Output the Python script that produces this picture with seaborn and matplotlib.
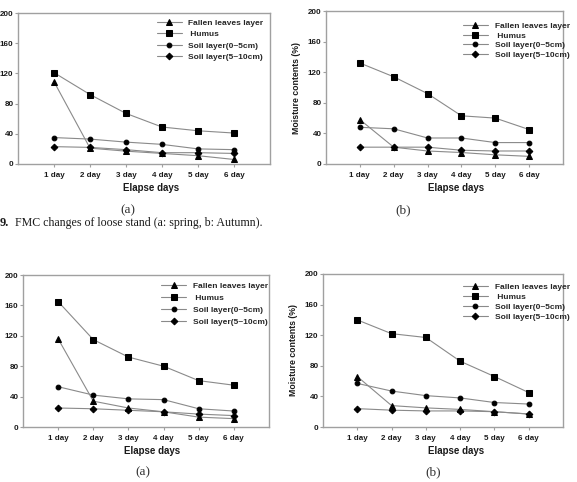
import matplotlib
import matplotlib.pyplot as plt
import seaborn as sns

matplotlib.use('Agg')

days = ["1 day", "2 day", "3 day", "4 day", "5 day", "6 day"]
layers = ["Fallen leaves layer", " Humus", "Soil layer(0~5cm)", "Soil layer(5~10cm)"]
markers = ["^", "s", "o", "D"]
marker_sizes = [3.8, 3.8, 3.4, 3.4]

# top figure (a: spring, b: autumn)
top_a_fallen = [109, 21, 17, 14, 11, 6]
top_a_humus = [121, 92, 67, 49, 44, 41]
top_a_soil05 = [35, 33, 29, 26, 20, 19]
top_a_soil510 = [23, 22, 19, 15, 15, 14]

top_b_fallen = [58, 22, 17, 15, 12, 10]
top_b_humus = [132, 114, 92, 63, 60, 45]
top_b_soil05 = [48, 46, 34, 34, 28, 28]
top_b_soil510 = [22, 22, 22, 18, 17, 17]

# bottom figure
bot_a_fallen = [116, 34, 25, 20, 13, 11]
bot_a_humus = [165, 115, 92, 80, 61, 55]
bot_a_soil05 = [53, 42, 37, 36, 24, 21]
bot_a_soil510 = [25, 24, 22, 20, 17, 15]

bot_b_fallen = [66, 28, 25, 23, 20, 17]
bot_b_humus = [140, 122, 117, 86, 66, 45]
bot_b_soil05 = [57, 47, 41, 38, 32, 30]
bot_b_soil510 = [24, 22, 21, 21, 20, 17]

y_ticks = [0, 40, 80, 120, 160, 200]

W, H = 577, 482
LINE_GRAY = "#8a8a8a"
SPINE_GRAY = "#a0a0a0"
TXT = "#1a1a1a"

sns.set_theme(style="white")
plt.rcParams['font.family'] = ['Liberation Sans', 'DejaVu Sans']
plt.rcParams['font.weight'] = 'bold'


def px_rect(x0, y0, x1, y1):
    return [x0 / W, 1 - y1 / H, (x1 - x0) / W, (y1 - y0) / H]


def draw_panel(fig, rect, series, ylabel, leg_anchor, leg_spacing, xlabel_x):
    ax = fig.add_axes(px_rect(*rect))
    for name, vals, m, ms in zip(layers, series, markers, marker_sizes):
        sns.lineplot(x=days, y=vals, ax=ax, color=LINE_GRAY, linewidth=0.8,
                     marker=m, markersize=ms, markerfacecolor="black",
                     markeredgecolor="black", label=name)
    ax.set_xlim(-1, 6)
    ax.set_ylim(0, 200)
    ax.set_yticks(y_ticks)
    for s in ax.spines.values():
        s.set_color(SPINE_GRAY)
        s.set_linewidth(1.0)
    ax.tick_params(axis="both", direction="out", length=2.5, width=0.8,
                   color=SPINE_GRAY, labelsize=5.8, pad=0.8, labelcolor=TXT,
                   bottom=True, left=True)
    ax.tick_params(axis="x", pad=3)
    for lab in ax.get_xticklabels() + ax.get_yticklabels():
        lab.set_fontweight("bold")
    ax.set_xlabel("Elapse days", fontsize=7, fontweight="bold", color=TXT)
    ax.xaxis.set_label_coords(xlabel_x, -0.125)
    if ylabel:
        ax.set_ylabel(ylabel, fontsize=6.3, fontweight="bold", color=TXT)
        ax.yaxis.set_label_coords(-0.105, 0.5)
    else:
        ax.set_ylabel("")
    ax.legend(loc="upper left", bbox_to_anchor=leg_anchor, frameon=False,
              handlelength=3.0, handletextpad=0.8,
              labelspacing=leg_spacing, borderpad=0, borderaxespad=0,
              prop={"weight": "bold", "size": 6})
    return ax


fig = plt.figure(figsize=(W / 100, H / 100), dpi=100)

draw_panel(fig, (18, 13, 270, 164),
           [top_a_fallen, top_a_humus, top_a_soil05, top_a_soil510],
           None, (0.55, 0.962), 0.45, 0.53)
draw_panel(fig, (326, 11, 563, 164),
           [top_b_fallen, top_b_humus, top_b_soil05, top_b_soil510],
           "Moisture contents (%)", (0.578, 0.927), 0.2, 0.55)
draw_panel(fig, (23, 275, 269, 427),
           [bot_a_fallen, bot_a_humus, bot_a_soil05, bot_a_soil510],
           None, (0.561, 0.952), 0.48, 0.525)
draw_panel(fig, (323, 274, 563, 427),
           [bot_b_fallen, bot_b_humus, bot_b_soil05, bot_b_soil510],
           "Moisture contents (%)", (0.583, 0.938), 0.24, 0.555)

serif = ['Liberation Serif', 'DejaVu Serif']
fig.text(128 / W, 1 - 210 / H, "(a)", family=serif, fontsize=9.5, fontweight="normal",
         ha="center", va="center", color="#333333")
fig.text(403 / W, 1 - 210 / H, "(b)", family=serif, fontsize=9.5, fontweight="normal",
         ha="center", va="center", color="#333333")
fig.text(143 / W, 1 - 472 / H, "(a)", family=serif, fontsize=9.5, fontweight="normal",
         ha="center", va="center", color="#333333")
fig.text(433 / W, 1 - 472 / H, "(b)", family=serif, fontsize=9.5, fontweight="normal",
         ha="center", va="center", color="#333333")
fig.text(0 / W, 1 - 223 / H, "9.", family=serif, fontsize=8.8, fontweight="bold",
         ha="left", va="center", color=TXT)
fig.text(15 / W, 1 - 223 / H, "FMC changes of loose stand (a: spring, b: Autumn).",
         family=serif, fontsize=8.6, fontweight="normal", ha="left", va="center", color=TXT)

fig.savefig("out.png", dpi=100)
